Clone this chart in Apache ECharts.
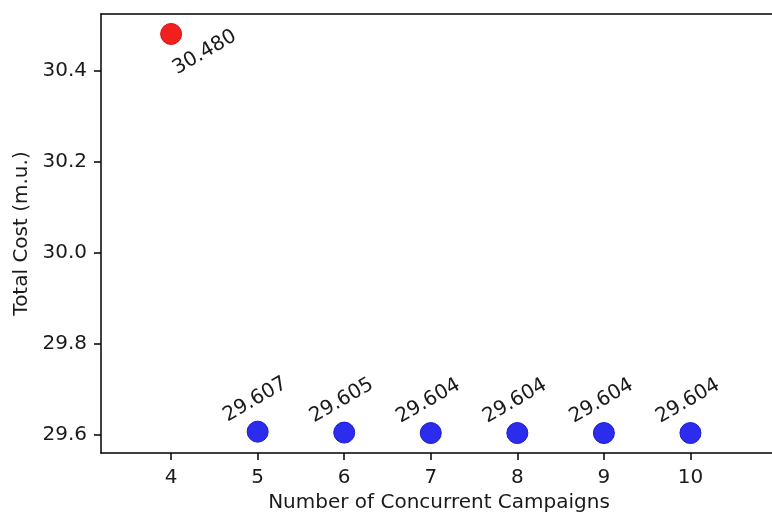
<!DOCTYPE html>
<html>
<head>
<meta charset="utf-8">
<script src="https://cdn.jsdelivr.net/npm/echarts@6/dist/echarts.min.js"></script>
<style>
  html, body { margin: 0; padding: 0; background: #ffffff; }
  #chart { width: 772px; height: 515px; }
</style>
</head>
<body>
<div id="chart"></div>
<script>
// Number of concurrent campaigns vs. total cost
const baselineCampaigns = [4];
const baselineCost = [30.480];
const campaigns = [5, 6, 7, 8, 9, 10];
const totalCost = [29.607, 29.605, 29.604, 29.604, 29.604, 29.604];
const xTicks = [4, 5, 6, 7, 8, 9, 10];
const yTicks = [29.6, 29.8, 30.0, 30.2, 30.4];

const FONT = 'DejaVu Sans';
const TEXT = '#1a1a1a';
const FS = 20;
const X_MIN = 3.19, X_MAX = 11.0;

const chart = echarts.init(document.getElementById('chart'), null, { renderer: 'canvas' });

function pairs(xs, ys) {
  return xs.map((x, i) => [x, ys[i]]);
}

const labelBase = {
  show: true,
  formatter: p => p.value[1].toFixed(3),
  fontFamily: FONT,
  fontSize: FS,
  color: TEXT,
  opacity: 1,
  textBorderWidth: 0,
  textBorderColor: 'transparent',
  rotate: 30,
  align: 'center',
  verticalAlign: 'middle'
};

const spine = { show: true, onZero: false, lineStyle: { color: '#000', width: 1.5 } };

chart.setOption({
  animation: false,
  backgroundColor: '#ffffff',
  grid: {
    left: 101,
    top: 14,
    width: 676,
    height: 439,
    show: false,
    outerBoundsMode: 'none'
  },
  xAxis: [
    {
      type: 'value',
      min: X_MIN,
      max: X_MAX,
      splitLine: { show: false },
      axisLine: spine,
      axisTick: { show: true, length: 7, lineStyle: { color: '#000', width: 1.5 }, customValues: xTicks },
      axisLabel: {
        customValues: xTicks,
        fontFamily: FONT, fontSize: FS, color: TEXT, margin: 15,
        formatter: v => String(v)
      },
      name: 'Number of Concurrent Campaigns',
      nameLocation: 'middle',
      nameGap: 40,
      nameTextStyle: { fontFamily: FONT, fontSize: FS, color: TEXT }
    },
    {
      // top frame line
      type: 'value',
      position: 'top',
      min: X_MIN,
      max: X_MAX,
      splitLine: { show: false },
      axisLine: spine,
      axisTick: { show: false },
      axisLabel: { show: false }
    }
  ],
  yAxis: {
    type: 'value',
    min: 29.5602,
    max: 30.5238,
    splitLine: { show: false },
    axisLine: spine,
    axisTick: { show: true, length: 7, lineStyle: { color: '#000', width: 1.5 }, customValues: yTicks },
    axisLabel: {
      customValues: yTicks,
      fontFamily: FONT, fontSize: FS, color: TEXT, margin: 14,
      formatter: v => v.toFixed(1)
    },
    name: 'Total Cost (m.u.)',
    nameLocation: 'middle',
    nameGap: 64,
    nameRotate: 90,
    nameTextStyle: { fontFamily: FONT, fontSize: FS, color: TEXT }
  },
  series: [
    {
      type: 'scatter',
      data: pairs(baselineCampaigns, baselineCost),
      symbol: 'circle',
      symbolSize: 21,
      itemStyle: { color: '#f21f1f', borderColor: '#d81414', borderWidth: 1, opacity: 1 },
      label: Object.assign({}, labelBase, { position: [44.5, 29.5] })
    },
    {
      type: 'scatter',
      data: pairs(campaigns, totalCost),
      symbol: 'circle',
      symbolSize: 21,
      itemStyle: { color: '#2c2cee', borderColor: '#1a1ad2', borderWidth: 1, opacity: 1 },
      label: Object.assign({}, labelBase, { position: [8.5, -21] })
    }
  ]
});
</script>
</body>
</html>
